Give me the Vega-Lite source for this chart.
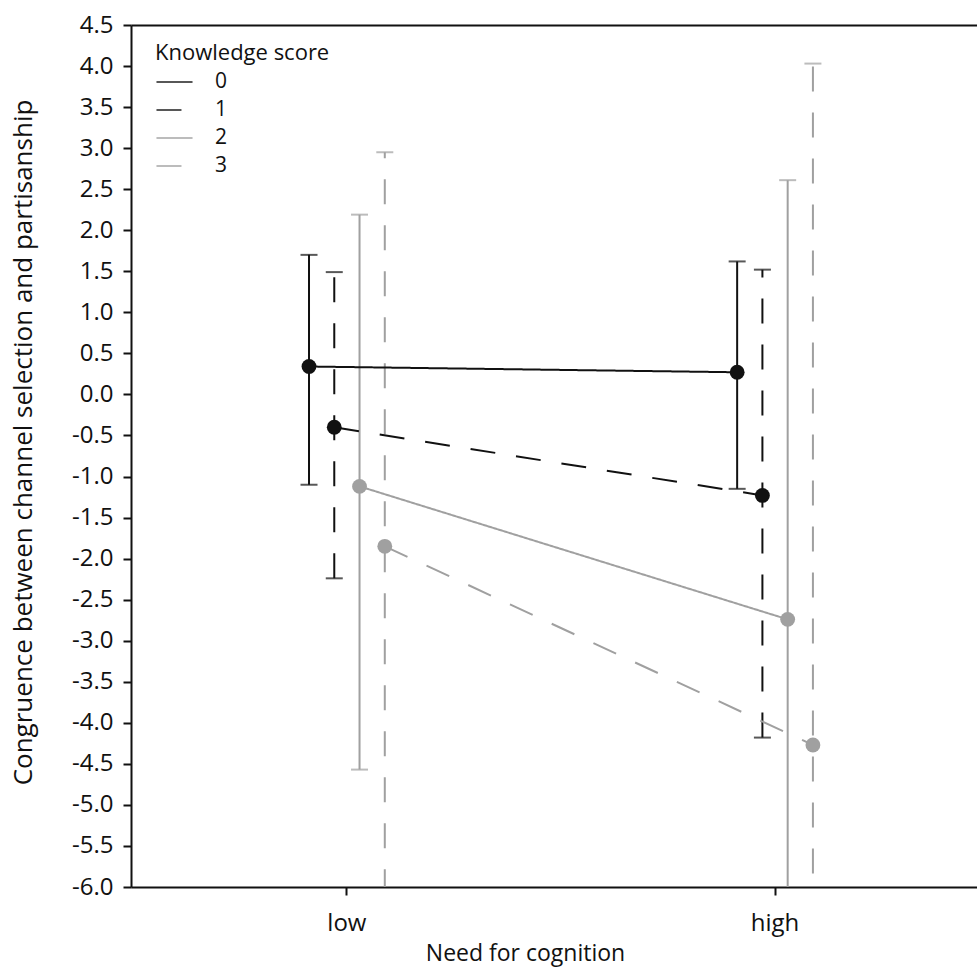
{
  "$schema": "https://vega.github.io/schema/vega-lite/v6.json",
  "width": 846,
  "height": 862,
  "autosize": {"type": "none"},
  "padding": {"left": 131, "top": 25, "right": 0, "bottom": 87},
  "background": "white",
  "config": {
    "view": {"stroke": null},
    "font": "Open Sans",
    "axis": {
      "domainColor": "#111111",
      "domainWidth": 2,
      "tickColor": "#111111",
      "tickWidth": 2,
      "tickSize": 8,
      "labelColor": "#111111",
      "labelFont": "Open Sans",
      "labelFontSize": 24,
      "titleFont": "Open Sans",
      "titleFontSize": 23,
      "titleFontWeight": "normal",
      "titleColor": "#111111",
      "grid": false
    },
    "legend": {
      "padding": 0,
      "titleFont": "Open Sans",
      "titleFontSize": 22,
      "titleFontWeight": "normal",
      "titleColor": "#111111",
      "labelFont": "Open Sans",
      "labelFontSize": 21,
      "labelColor": "#111111"
    }
  },
  "data": {
    "values": [
      {"need": "low", "k": "0", "mean": 0.34, "lo": -1.10, "hi": 1.70},
      {"need": "low", "k": "1", "mean": -0.40, "lo": -2.24, "hi": 1.49},
      {"need": "low", "k": "2", "mean": -1.12, "lo": -4.57, "hi": 2.19},
      {"need": "low", "k": "3", "mean": -1.85, "lo": -6.65, "hi": 2.95},
      {"need": "high", "k": "0", "mean": 0.27, "lo": -1.15, "hi": 1.62},
      {"need": "high", "k": "1", "mean": -1.23, "lo": -4.18, "hi": 1.52},
      {"need": "high", "k": "2", "mean": -2.74, "lo": -8.09, "hi": 2.61},
      {"need": "high", "k": "3", "mean": -4.27, "lo": -12.56, "hi": 4.03}
    ]
  },
  "resolve": {"axis": {"x": "independent"}},
  "layer": [
    {
      "mark": {"type": "rule", "strokeWidth": 2, "clip": true},
      "encoding": {
        "x": {
          "field": "need", "type": "ordinal", "sort": ["low", "high"],
          "scale": {"type": "band", "paddingInner": 0.764, "paddingOuter": 0.37, "align": 0.522},
          "axis": {
            "title": "Need for cognition", "labelAngle": 0, "labelPadding": 16,
            "titleX": 394, "titleY": 73, "titleBaseline": "alphabetic", "titleAlign": "center",
            "domainWidth": 2
          }
        },
        "xOffset": {"field": "k", "type": "ordinal", "scale": {"type": "band", "padding": 0}},
        "y": {
          "field": "lo", "type": "quantitative",
          "scale": {"domain": [-6, 4.5], "nice": false, "zero": false},
          "axis": {
            "title": "Congruence between channel selection and partisanship",
            "values": [-6, -5.5, -5, -4.5, -4, -3.5, -3, -2.5, -2, -1.5, -1, -0.5, 0, 0.5, 1, 1.5, 2, 2.5, 3, 3.5, 4, 4.5],
            "labelExpr": "replace(format(datum.value, '.1f'), '\u2212', '-')",
            "labelPadding": 10,
            "titleFontSize": 26,
            "titlePadding": 35,
            "titleY": 417
          }
        },
        "y2": {"field": "hi"},
        "color": {
          "field": "k", "type": "nominal", "title": "Knowledge score",
          "scale": {"domain": ["0", "1", "2", "3"], "range": ["#111111", "#111111", "#a0a0a0", "#a0a0a0"]},
          "legend": {
            "orient": "none", "legendX": 24, "legendY": 18,
            "symbolType": "stroke", "symbolSize": 1300, "symbolStrokeWidth": 2,
            "clipHeight": 28,
            "rowPadding": 0, "titlePadding": 3, "labelOffset": 21
          }
        },
        "strokeDash": {
          "field": "k", "type": "nominal", "title": "Knowledge score",
          "scale": {"domain": ["0", "1", "2", "3"], "range": [[1, 0], [25, 21], [1, 0], [25, 21]]},
          "legend": {
            "orient": "none", "legendX": 24, "legendY": 18,
            "symbolType": "stroke", "symbolSize": 1300, "symbolStrokeWidth": 2,
            "clipHeight": 28,
            "rowPadding": 0, "titlePadding": 3, "labelOffset": 21
          }
        }
      }
    },
    {
      "mark": {"type": "tick", "thickness": 2, "size": 17, "clip": true},
      "encoding": {
        "x": {"field": "need", "type": "ordinal", "sort": ["low", "high"], "axis": null},
        "xOffset": {"field": "k", "type": "ordinal"},
        "y": {"field": "hi", "type": "quantitative"},
        "color": {"field": "k", "type": "nominal"}
      }
    },
    {
      "mark": {"type": "tick", "thickness": 2, "size": 17, "clip": true},
      "encoding": {
        "x": {"field": "need", "type": "ordinal", "sort": ["low", "high"], "axis": null},
        "xOffset": {"field": "k", "type": "ordinal"},
        "y": {"field": "lo", "type": "quantitative"},
        "color": {"field": "k", "type": "nominal"}
      }
    },
    {
      "mark": {"type": "line", "strokeWidth": 2, "clip": true},
      "encoding": {
        "x": {"field": "need", "type": "ordinal", "sort": ["low", "high"], "axis": null},
        "xOffset": {"field": "k", "type": "ordinal"},
        "y": {"field": "mean", "type": "quantitative"},
        "color": {"field": "k", "type": "nominal"},
        "strokeDash": {"field": "k", "type": "nominal"}
      }
    },
    {
      "mark": {"type": "point", "filled": true, "opacity": 1, "size": 220, "clip": true},
      "encoding": {
        "x": {
          "field": "need", "type": "ordinal", "sort": ["low", "high"],
          "axis": {"orient": "top", "labels": false, "ticks": false, "title": null, "domainWidth": 2}
        },
        "xOffset": {"field": "k", "type": "ordinal"},
        "y": {"field": "mean", "type": "quantitative"},
        "color": {"field": "k", "type": "nominal"}
      }
    }
  ]
}
